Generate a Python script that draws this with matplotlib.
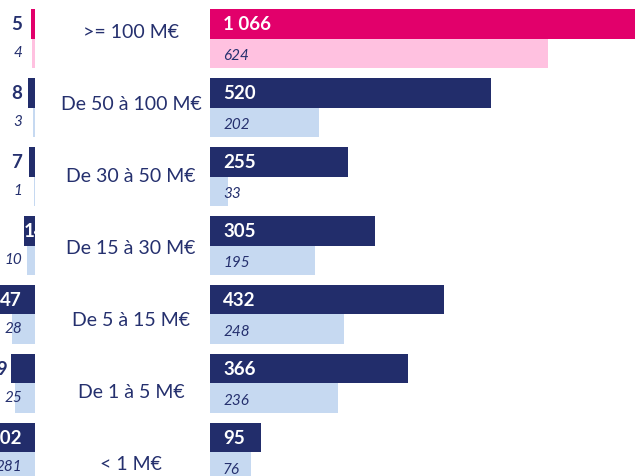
import matplotlib.pyplot as plt

# data, top to bottom
categories = ['>= 100 M€', 'De 50 à 100 M€', 'De 30 à 50 M€', 'De 15 à 30 M€',
              'De 5 à 15 M€', 'De 1 à 5 M€', '< 1 M€']
left_dark = [5, 8, 7, 14, 47, 29, 302]
left_light = [4, 3, 1, 10, 28, 25, 281]
right_dark = [1066, 520, 255, 305, 432, 366, 95]
right_light = [624, 202, 33, 195, 248, 236, 76]

NAVY = '#222d6b'
LIGHT_BLUE = '#c6d9f1'
MAGENTA = '#e2006b'
PINK = '#ffc1e0'
TEXT = '#25306e'

plt.rcParams['font.family'] = ['Lato', 'DejaVu Sans']

W, H = 635, 477
BAR_H = 0.4275
Y_TOP, Y_BOT = -0.5725, 6.3406


def fmt(v):
    return f'{v:,}'.replace(',', ' ')


def main():
    fig = plt.figure(figsize=(W / 100, H / 100), dpi=100)

    dark_cols = [MAGENTA] + [NAVY] * (len(categories) - 1)
    light_cols = [PINK] + [LIGHT_BLUE] * (len(categories) - 1)
    ys = list(range(len(categories)))

    # right panel
    ax_r = fig.add_axes([210 / W, 0, (W - 210) / W, 1])
    ax_r.barh([y - BAR_H / 2 for y in ys], right_dark, height=BAR_H, color=dark_cols)
    ax_r.barh([y + BAR_H / 2 for y in ys], right_light, height=BAR_H, color=light_cols)
    ax_r.set_xlim(0, (W - 210) / 0.541)
    ax_r.set_ylim(Y_BOT, Y_TOP)
    for y, d, l in zip(ys, right_dark, right_light):
        ax_r.annotate(fmt(d), (0, y - BAR_H / 2), xytext=(9.4, 0), textcoords='offset points',
                      ha='left', va='center', color='white', fontsize=13.5, fontweight='bold')
        ax_r.annotate(fmt(l), (0, y + BAR_H / 2), xytext=(9.4, -1), textcoords='offset points',
                      ha='left', va='center', color=TEXT, fontsize=11, fontstyle='italic')
    ax_r.axis('off')

    # left panel (mirrored, mostly cropped)
    scale = 0.82
    ax_l = fig.add_axes([0, 0, 35 / W, 1])
    ax_l.barh([y - BAR_H / 2 for y in ys], left_dark, height=BAR_H, color=dark_cols)
    ax_l.barh([y + BAR_H / 2 for y in ys], left_light, height=BAR_H, color=light_cols)
    ax_l.set_xlim(35 / scale, 0)
    ax_l.set_ylim(Y_BOT, Y_TOP)
    label_x = (35 - 22) / scale
    for y, d, l in zip(ys, left_dark, left_light):
        yd = y - BAR_H / 2
        if d == 14:
            ax_l.text(d, yd, str(d), ha='left', va='center', color='white',
                      fontsize=13.5, fontweight='bold')
        elif d == 29:
            ax_l.annotate(str(d), (d, yd), xytext=(-2, 0), textcoords='offset points',
                          ha='right', va='center', color=TEXT, fontsize=13.5, fontweight='bold')
        else:
            col = 'white' if d > label_x else TEXT
            ax_l.text(label_x, yd, str(d), ha='right', va='center', color=col,
                      fontsize=13.5, fontweight='bold')
        ax_l.text(label_x, y + BAR_H / 2 - 0.02, str(l), ha='right', va='center', color=TEXT,
                  fontsize=11, fontstyle='italic')
    ax_l.axis('off')

    # category labels in the middle
    for i, cat in enumerate(categories):
        fig.text(131 / W, 1 - (33 + 72 * i) / H, cat, ha='center', va='center',
                 color=TEXT, fontsize=14)

    fig.savefig('out.png', dpi=100)


if __name__ == '__main__':
    main()
